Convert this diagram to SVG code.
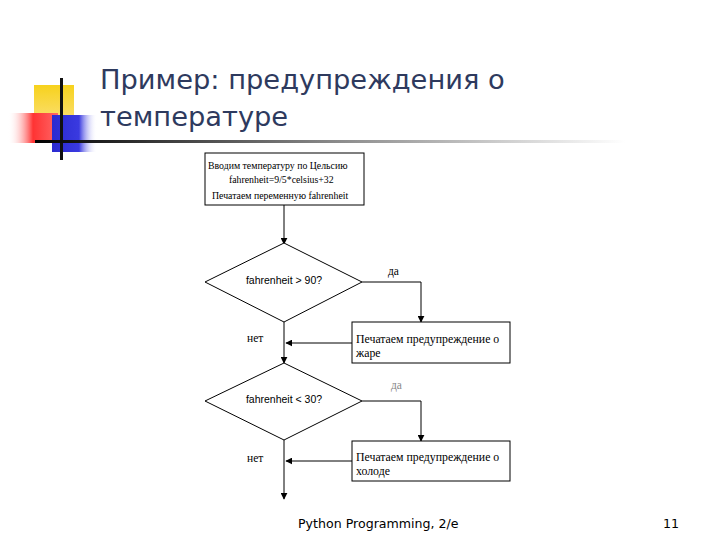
<svg xmlns="http://www.w3.org/2000/svg" width="720" height="540" viewBox="0 0 720 540">
<defs>
<style>
.ln{stroke:#000;stroke-width:1;fill:none}
.bx{stroke:#000;stroke-width:1;fill:#fff}
.t1{font-family:"Liberation Serif",serif;font-size:9.8px;fill:#000}
.t{font-family:"Liberation Serif",serif;font-size:11.8px;fill:#000}
.tb{font-family:"Liberation Sans",sans-serif;font-size:10.5px;fill:#000}
.lb{font-family:"Liberation Serif",serif;font-size:11.5px;fill:#000}
.title{font-family:"DejaVu Sans","Liberation Sans",sans-serif;font-size:27.3px;fill:#2e3a5e}
.foot{font-family:"DejaVu Sans","Liberation Sans",sans-serif;font-size:12.6px;fill:#000}
</style>
<marker id="ah" viewBox="0 0 10 10" refX="9" refY="5" markerWidth="7" markerHeight="7" orient="auto" markerUnits="userSpaceOnUse">
<path d="M0,0 L10,5 L0,10 z" fill="#000"/>
</marker>
<linearGradient id="hl" x1="0" x2="1" y1="0" y2="0">
<stop offset="0" stop-color="#000"/>
<stop offset="0.5" stop-color="#888"/>
<stop offset="1" stop-color="#fff"/>
</linearGradient>
<linearGradient id="rg" x1="0" x2="1" y1="0" y2="0">
<stop offset="0" stop-color="#fff" stop-opacity="0"/>
<stop offset="0.5" stop-color="#f33"/>
<stop offset="1" stop-color="#f66"/>
</linearGradient>
<linearGradient id="bg" x1="0" x2="1" y1="0" y2="0">
<stop offset="0" stop-color="#2a2ad0"/>
<stop offset="0.6" stop-color="#3a3ae0"/>
<stop offset="1" stop-color="#fff" stop-opacity="0"/>
</linearGradient>
<linearGradient id="yg" x1="0" x2="0" y1="0" y2="1">
<stop offset="0" stop-color="#f7d21c"/>
<stop offset="1" stop-color="#fbe07a"/>
</linearGradient>
</defs>
<rect width="720" height="540" fill="#fff"/>
<g id="decor">
<rect x="34" y="85" width="40" height="40" fill="url(#yg)"/>
<rect x="8" y="113" width="50" height="30" fill="url(#rg)"/>
<rect x="52" y="115" width="45" height="37" fill="url(#bg)"/>
<rect x="60" y="78" width="3" height="82" fill="#111"/>
<rect x="35" y="140" width="590" height="3" fill="url(#hl)"/>
</g>
<g id="title">
<text class="title" x="100" y="89">Пример: предупреждения о</text>
<text class="title" x="100" y="126">температуре</text>
</g>
<g id="connectors">
<line class="ln" x1="284" y1="205" x2="284" y2="244" marker-end="url(#ah)"/>
<polyline class="ln" points="362,282 421,282 421,322" marker-end="url(#ah)"/>
<line class="ln" x1="352" y1="343" x2="286" y2="343" marker-end="url(#ah)"/>
<line class="ln" x1="284" y1="322" x2="284" y2="363" marker-end="url(#ah)"/>
<polyline class="ln" points="362,401 421,401 421,441" marker-end="url(#ah)"/>
<line class="ln" x1="352" y1="461" x2="286" y2="461" marker-end="url(#ah)"/>
<line class="ln" x1="284" y1="440" x2="284" y2="499" marker-end="url(#ah)"/>
</g>
<g id="n1">
<rect class="bx" x="205" y="153" width="159" height="52"/>
<text class="t1" x="208" y="169">Вводим температуру по Цельсию</text>
<text class="t1" x="229" y="183">fahrenheit=9/5*celsius+32</text>
<text class="t1" x="212" y="199">Печатаем переменную fahrenheit</text>
</g>
<g id="d1">
<polygon class="bx" points="284,243 362,282 284,322 205,282"/>
<text class="tb" x="284" y="284" text-anchor="middle">fahrenheit &gt; 90?</text>
</g>
<g id="n2">
<rect class="bx" x="352" y="322" width="158" height="41"/>
<text class="t" x="356" y="343">Печатаем предупреждение о</text>
<text class="t" x="356" y="357">жаре</text>
</g>
<g id="d2">
<polygon class="bx" points="284,363 362,401 284,440 205,401"/>
<text class="tb" x="284" y="403" text-anchor="middle">fahrenheit &lt; 30?</text>
</g>
<g id="n3">
<rect class="bx" x="352" y="441" width="158" height="40"/>
<text class="t" x="356" y="461">Печатаем предупреждение о</text>
<text class="t" x="356" y="475">холоде</text>
</g>
<g id="labels">
<text class="lb" x="388" y="275">да</text>
<text class="lb" x="391" y="389" style="fill:#888">да</text>
<text class="lb" x="247" y="342">нет</text>
<text class="lb" x="247" y="462">нет</text>
</g>
<g id="footer">
<text class="foot" x="298" y="528">Python Programming, 2/e</text>
<text class="foot" x="663" y="528">11</text>
</g>
</svg>
